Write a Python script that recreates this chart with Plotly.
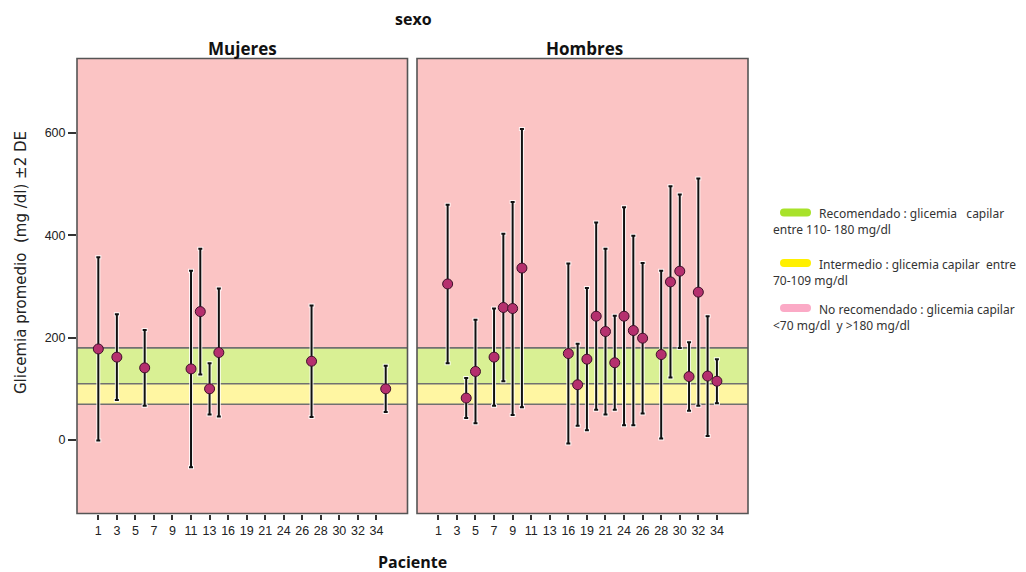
import plotly.graph_objects as go

# ---------------- data ----------------
categorias = [str(i) for i in list(range(1, 14)) + [15, 16, 18, 19, 20, 21, 23] + list(range(24, 36))]
etiquetas_x = ["1", "3", "5", "7", "9", "11", "13", "16", "19", "21", "24", "26", "28", "30", "32", "34"]

muj_pac = ["1", "3", "6", "11", "12", "13", "15", "27", "35"]
muj_media = [178, 162, 141, 139, 251, 100, 171, 154, 100]
muj_2de = [179, 84, 74, 192, 123, 50, 125, 109, 45]

hom_pac = ["2", "4", "5", "7", "8", "9", "10", "16", "18", "19", "20", "21", "23",
           "24", "25", "26", "28", "29", "30", "31", "32", "33", "34"]
hom_media = [305, 82, 134, 162, 259, 257, 336, 169, 108, 158, 242, 212, 151,
             242, 214, 199, 167, 309, 330, 124, 289, 125, 115]
hom_2de = [155, 39, 101, 95, 144, 208, 272, 176, 80, 139, 183, 162, 92,
           213, 185, 147, 164, 187, 150, 67, 222, 117, 43]

bandas = [(110, 180, "#d9f094"), (70, 110, "#fff6a2")]
lineas_banda = [70, 110, 180]

y_ticks = [0, 200, 400, 600]

leyenda = [
    ("#a8e22a", "Recomendado : glicemia   capilar", "entre 110- 180 mg/dl"),
    ("#fff000", "Intermedio : glicemia capilar  entre", "70-109 mg/dl"),
    ("#fbaac6", "No recomendado : glicemia capilar", "<70 mg/dl  y >180 mg/dl"),
]

# ---------------- layout helpers ----------------
# the page body has an 8px margin, so the figure is placed at (8, 8)
OFF = 8
W, H = 1026 - OFF, 572 - OFF
def px(x):
    return (x - OFF) / W
def py(y):
    return 1 - (y - OFF) / H

fig = go.Figure()

paneles = [
    ("x", "y", muj_pac, muj_media, muj_2de),
    ("x2", "y2", hom_pac, hom_media, hom_2de),
]
for xa, ya, pac, med, de in paneles:
    # white halo under the error bars
    fig.add_trace(go.Scatter(
        x=pac, y=med, xaxis=xa, yaxis=ya, mode="markers",
        marker=dict(size=1, color="rgba(0,0,0,0)"),
        error_y=dict(type="data", array=de, symmetric=True, color="rgba(255,255,255,0.85)",
                     thickness=4, width=3),
        hoverinfo="skip", showlegend=False))
    fig.add_trace(go.Scatter(
        x=pac, y=med, xaxis=xa, yaxis=ya, mode="markers",
        marker=dict(size=10, color="#b5306e", line=dict(color="#3c1028", width=1)),
        error_y=dict(type="data", array=de, symmetric=True, color="#111111",
                     thickness=2, width=2),
        showlegend=False))

shapes = []
for xa, ya in [("x", "y"), ("x2", "y2")]:
    for lo, hi, col in bandas:
        shapes.append(dict(type="rect", xref=f"{xa} domain", yref=ya, x0=0, x1=1, y0=lo, y1=hi,
                           fillcolor=col, line=dict(width=0), layer="below"))
    for v in lineas_banda:
        shapes.append(dict(type="line", xref=f"{xa} domain", yref=ya, x0=0, x1=1, y0=v, y1=v,
                           line=dict(color="#707070", width=1.6), layer="below"))
    shapes.append(dict(type="rect", xref=f"{xa} domain", yref=f"{ya} domain", x0=0, x1=1, y0=0, y1=1,
                       line=dict(color="#555555", width=1.6), fillcolor="rgba(0,0,0,0)", layer="above"))

# legend blobs
def pill(x0, y0, x1, y1, color):
    r = (y1 - y0) / 2
    ym = (y0 + y1) / 2
    pts = (f"M {px(x0 + r)},{py(y0)} L {px(x1 - r)},{py(y0)} "
           f"Q {px(x1)},{py(y0)} {px(x1)},{py(ym)} Q {px(x1)},{py(y1)} {px(x1 - r)},{py(y1)} "
           f"L {px(x0 + r)},{py(y1)} Q {px(x0)},{py(y1)} {px(x0)},{py(ym)} "
           f"Q {px(x0)},{py(y0)} {px(x0 + r)},{py(y0)} Z")
    return dict(type="path", xref="paper", yref="paper", path=pts, fillcolor=color,
                line=dict(width=0))

annotations = []
ly = [212.5, 263, 308]
legfont = dict(family="Noto Sans", size=12, color="#333333")
for (col, t1, t2), yc in zip(leyenda, ly):
    shapes.append(pill(780, yc - 4, 811, yc + 4, col))
    annotations.append(dict(x=px(817), y=py(yc + 1), xref="paper", yref="paper", text=t1,
                            showarrow=False, xanchor="left", yanchor="middle", font=legfont))
    annotations.append(dict(x=px(771), y=py(yc + 17.5), xref="paper", yref="paper", text=t2,
                            showarrow=False, xanchor="left", yanchor="middle", font=legfont))

bold = dict(family="Open Sans", size=17, color="#111111")
annotations += [
    dict(x=px(413), y=py(19), xref="paper", yref="paper", text="<b>sexo</b>", showarrow=False,
         xanchor="center", yanchor="middle", font=dict(family="Open Sans", size=16, color="#111111")),
    dict(x=px(242), y=py(49), xref="paper", yref="paper", text="<b>Mujeres</b>", showarrow=False,
         xanchor="center", yanchor="middle", font=bold),
    dict(x=px(584), y=py(49), xref="paper", yref="paper", text="<b>Hombres</b>", showarrow=False,
         xanchor="center", yanchor="middle", font=bold),
    dict(x=px(412), y=py(562), xref="paper", yref="paper", text="<b>Paciente</b>", showarrow=False,
         xanchor="center", yanchor="middle", font=dict(family="Open Sans", size=16, color="#111111")),
    dict(x=px(21), y=py(263), xref="paper", yref="paper", text="Glicemia promedio  (mg /dl) ±2 DE",
         showarrow=False, textangle=-90, xanchor="center", yanchor="middle",
         font=dict(family="DejaVu Sans", size=15, color="#222222")),
]

xrange = [-2.3, 33.35]
yrange = [-143.6, 745.6]
tickfont = dict(family="Liberation Sans", size=12.5, color="#222222")
xcommon = dict(type="category", categoryorder="array", categoryarray=categorias, range=xrange,
               tickmode="array", tickvals=etiquetas_x, ticktext=etiquetas_x, ticks="outside",
               ticklen=5, tickwidth=1.5, tickcolor="#333333", showgrid=False, zeroline=False,
               showline=False, tickfont=tickfont, fixedrange=True)

fig.update_layout(
    width=W, height=H,
    margin=dict(l=0, r=0, t=0, b=0),
    paper_bgcolor="white",
    plot_bgcolor="#fbc4c4",
    showlegend=False,
    shapes=shapes,
    annotations=annotations,
    xaxis=dict(domain=[px(77), px(407.5)], anchor="y", **xcommon),
    xaxis2=dict(domain=[px(417), px(748)], anchor="y2", **xcommon),
    yaxis=dict(domain=[py(513.5), py(58.5)], anchor="x", range=yrange, tickmode="array",
               tickvals=y_ticks, ticks="outside", ticklen=8, tickwidth=1.5, tickcolor="#333333",
               showgrid=False, zeroline=False, showline=False, tickfont=tickfont),
    yaxis2=dict(domain=[py(513.5), py(58.5)], anchor="x2", range=yrange, matches="y",
                showticklabels=False, ticks="", showgrid=False, zeroline=False, showline=False),
)

fig.write_html("out.html")
